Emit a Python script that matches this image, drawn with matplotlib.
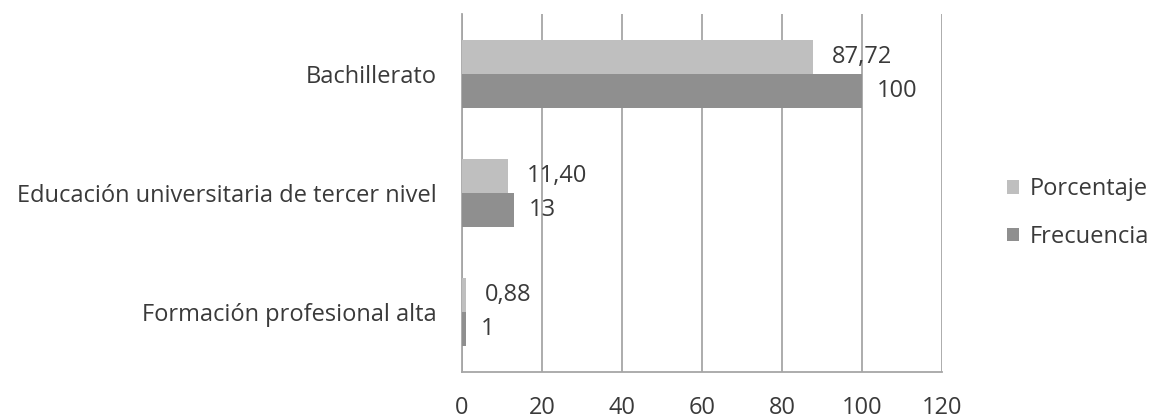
import matplotlib
matplotlib.use("Agg")
import matplotlib.pyplot as plt
import numpy as np

categories = ["Bachillerato", "Educación universitaria de tercer nivel", "Formación profesional alta"]
porcentaje = [87.72, 11.40, 0.88]
frecuencia = [100, 13, 1]
porcentaje_labels = ["87,72", "11,40", "0,88"]
frecuencia_labels = ["100", "13", "1"]
xticks = [0, 20, 40, 60, 80, 100, 120]

plt.rcParams['font.family'] = ['Open Sans', 'DejaVu Sans']
TXT = '#3A3A3A'
GRID = '#A6A6A6'
C_POR = '#BFBFBF'
C_FRE = '#8F8F8F'
FS = 17

fig = plt.figure(figsize=(11.53, 4.19), dpi=100)
ax = fig.add_axes([462/1153, 1-372/419, 480/1153, 358/419])

y = np.arange(len(categories))
h = 0.285
ax.barh(y - h/2, porcentaje, height=h, color=C_POR, label='Porcentaje', zorder=3)
ax.barh(y + h/2, frecuencia, height=h, color=C_FRE, label='Frecuencia', zorder=3)

for yi, v, lab in zip(y, porcentaje, porcentaje_labels):
    ax.annotate(lab, (v, yi - h/2), xytext=(14, 0), textcoords='offset points',
                va='center', ha='left', fontsize=FS, color=TXT, zorder=4)
for yi, v, lab in zip(y, frecuencia, frecuencia_labels):
    ax.annotate(lab, (v, yi + h/2), xytext=(11, 0), textcoords='offset points',
                va='center', ha='left', fontsize=FS, color=TXT, zorder=4)

ax.set_xlim(0, 120)
ax.set_ylim(2.5, -0.5)
ax.set_xticks(xticks)
ax.set_xticklabels([str(t) for t in xticks], fontsize=FS, color=TXT)
ax.set_yticks(y)
ax.set_yticklabels(categories, fontsize=FS, color=TXT)
ax.tick_params(axis='x', length=0, pad=17)
ax.tick_params(axis='y', length=0, pad=18.5)
ax.grid(axis='x', color=GRID, linewidth=1.3, zorder=0)
for s in ['top', 'right']:
    ax.spines[s].set_visible(False)
ax.spines['left'].set_color(GRID)
ax.spines['left'].set_linewidth(1.3)
ax.spines['bottom'].set_color(GRID)
ax.spines['bottom'].set_linewidth(1.3)

handles, labels = ax.get_legend_handles_labels()
fig.legend(handles, labels, loc='center left', bbox_to_anchor=(1007/1153, 1-213/419),
           frameon=False, fontsize=FS, labelcolor=TXT, handlelength=0.5, handleheight=0.5,
           handletextpad=0.45, labelspacing=1.0, borderpad=0, borderaxespad=0)

fig.savefig('out.png', dpi=100)
